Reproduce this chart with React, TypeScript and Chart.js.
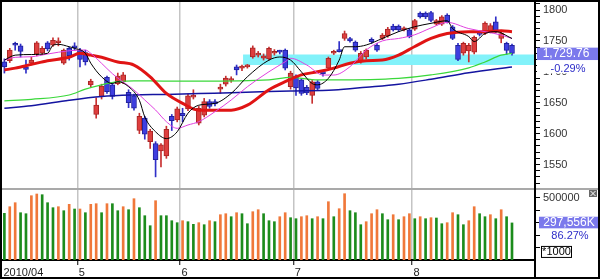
import React, { useEffect, useRef } from 'react';
import { Chart, registerables } from 'chart.js';

Chart.register(...registerables);

const FONT = '"Liberation Sans", Arial, sans-serif';

// x axis: month boundaries (bar index units), labels
const monthTickValues = [-0.44, 13.5, 32.5, 53.5, 75.5];
const monthTickLabels = ['2010/04', '5', '6', '7', '8'];

// daily candles (index 0..94)
const openPrices = [
  1716, 1718, 1746, 1742, 1708, 1714, 1729, 1730, 1747, 1743,
  1747, 1714, 1738, 1741, 1735, 1731, 1679, 1631, 1660, 1691,
  1679, 1681, 1684, 1667, 1661, 1605, 1625, 1587, 1584, 1572,
  1564, 1628, 1622, 1633, 1640, 1659, 1617, 1630, 1652, 1652,
  1672, 1680, 1686, 1708, 1706, 1708, 1724, 1727, 1722, 1721,
  1730, 1733.5, 1735, 1676, 1693, 1687, 1675, 1662, 1684, 1700,
  1706, 1730, 1736, 1754, 1754, 1748, 1716, 1724, 1752.5, 1743,
  1754, 1758, 1774, 1774, 1768, 1768, 1769, 1795, 1795, 1796,
  1777, 1777, 1792, 1773, 1743, 1730, 1734, 1732, 1764, 1762,
  1765, 1781, 1754, 1746, 1743,
];
const highPrices = [
  1721, 1738, 1748, 1745, 1719, 1724, 1749, 1741, 1749, 1755,
  1755, 1737, 1740, 1747, 1738, 1735, 1688, 1658, 1680, 1693,
  1681, 1698, 1699, 1671, 1664, 1633, 1628, 1607, 1587, 1584,
  1612, 1631, 1643, 1641, 1664, 1671, 1644, 1657, 1655, 1655,
  1680, 1693, 1692, 1711, 1711, 1712, 1742, 1733, 1729, 1740,
  1736, 1735, 1737, 1701, 1695, 1689, 1678, 1686, 1686, 1702,
  1724, 1735, 1749, 1766, 1756, 1750, 1733, 1737, 1755, 1746,
  1762, 1772, 1777, 1776, 1773, 1770, 1785, 1797, 1797, 1798,
  1785, 1791, 1794, 1775, 1746, 1748, 1746, 1758, 1766, 1781,
  1778, 1789, 1764, 1748, 1745,
];
const lowPrices = [
  1698, 1715, 1735, 1724, 1698, 1711, 1726, 1728, 1734, 1741,
  1742, 1712, 1719, 1735, 1708, 1711, 1675, 1625, 1656, 1665,
  1656, 1679, 1681, 1642, 1638, 1600, 1591, 1576, 1530, 1546,
  1560, 1605, 1619, 1619, 1637, 1656, 1614, 1627, 1641, 1645,
  1665, 1677, 1683, 1695, 1702, 1706, 1722, 1724, 1719, 1719,
  1727, 1729, 1703, 1672, 1662, 1662, 1663, 1649, 1670, 1693,
  1703, 1728, 1732, 1751, 1748, 1733, 1714, 1721, 1746, 1733,
  1752, 1756, 1766, 1765, 1766, 1755, 1767, 1787, 1786, 1781,
  1775, 1775, 1779, 1752, 1718, 1727, 1716, 1729, 1758, 1760,
  1763, 1763, 1747, 1728, 1727,
];
const closePrices = [
  1708, 1735, 1743, 1733, 1704, 1719, 1747, 1738, 1737, 1751,
  1748.5, 1735, 1726, 1739, 1720, 1716, 1685, 1646, 1677, 1668,
  1660, 1693, 1695, 1650, 1641, 1628, 1599, 1604, 1558, 1582,
  1607, 1621, 1640, 1629, 1661, 1662, 1641, 1652, 1644, 1648,
  1674, 1690, 1688.5, 1703, 1708, 1710.5, 1739, 1730, 1726, 1738,
  1732.5, 1732, 1706, 1698, 1674, 1665, 1666, 1684, 1673, 1697,
  1722, 1732.5, 1732.5, 1762, 1750, 1735, 1730, 1735, 1749, 1735,
  1759.5, 1769, 1768, 1768, 1771, 1757, 1783, 1789, 1789, 1783,
  1783, 1789, 1781, 1754, 1720, 1746, 1743, 1756, 1760.5, 1779,
  1775, 1765, 1762, 1734.8, 1729.76,
];

// volume (thousands) and colour flag (1 = orange, 0 = green)
const volumes = [
  374800, 427800, 459900, 379600, 371600, 516100, 529700, 524100, 459900, 419800,
  427800, 395700, 447000, 409300, 409300, 379600, 447000, 451900, 379600, 451900,
  451900, 395700, 427800, 403700, 492000, 419800, 355600, 275300, 475900, 355600,
  355600, 315400, 299400, 315400, 307400, 286500, 299400, 283300, 315400, 307400,
  363600, 371600, 347500, 379600, 371600, 291300, 387700, 403700, 371600, 315400,
  307400, 347500, 379600, 339500, 331500, 347500, 355600, 331500, 347500, 331500,
  467900, 347500, 411700, 532100, 395700, 379600, 283300, 307400, 371600, 403700,
  371600, 323400, 363600, 323400, 347500, 371600, 331500, 347500, 331500, 339500,
  337100, 291300, 299400, 379600, 363600, 283300, 315400, 427800, 371600, 347500,
  363600, 331500, 403700, 347500, 297556,
];
const volumeUp = [
  0, 1, 1, 0, 0, 1, 1, 0, 0, 0,
  1, 0, 1, 0, 1, 0, 1, 1, 0, 1,
  0, 0, 1, 0, 1, 0, 0, 0, 1, 0,
  0, 0, 0, 1, 0, 0, 1, 0, 1, 0,
  1, 1, 0, 1, 0, 0, 1, 1, 0, 0,
  0, 1, 1, 0, 0, 1, 1, 0, 1, 0,
  1, 0, 1, 1, 0, 0, 0, 1, 1, 1,
  0, 0, 1, 0, 1, 1, 0, 1, 0, 1,
  0, 0, 1, 1, 0, 0, 1, 1, 0, 0,
  1, 0, 1, 0, 0,
];

// moving average lines (bar index, value)
const ma5Idx = [0, 2, 5, 8, 9, 10, 12, 13, 15, 16, 18, 20, 21, 23, 25, 26, 28, 30, 32, 34, 36, 39, 42, 45, 49, 51, 53, 55, 57, 58, 60, 62, 63, 65, 67, 70, 73, 76, 79, 82, 83, 86, 87, 89, 91, 94];
const ma5Val = [1719, 1727, 1728, 1730, 1743, 1744.5, 1740.6, 1738, 1730, 1714, 1692, 1681, 1684, 1676, 1654, 1627, 1603, 1592, 1603, 1633, 1646, 1649, 1665, 1692, 1719, 1724, 1719, 1700, 1681, 1679, 1689.5, 1719, 1740.6, 1740.6, 1743.4, 1754, 1765, 1773, 1778.5, 1782.7, 1770, 1757, 1749, 1762, 1765, 1754];

const ma10Idx = [0, 2, 5, 8, 12, 15, 16, 18, 20, 21, 24, 26, 28, 30, 32, 34, 36, 39, 42, 45, 49, 52, 53, 56, 59, 61, 64, 67, 70, 73, 76, 79, 82, 86, 89, 92, 94];
const ma10Val = [1719, 1723.5, 1724.4, 1728.8, 1734.1, 1735.3, 1729.9, 1713.8, 1697, 1690, 1670.6, 1654.4, 1638.2, 1619.3, 1608.6, 1614, 1619.3, 1635.5, 1654.4, 1675.9, 1700.2, 1716.3, 1721.9, 1711, 1694.8, 1694.8, 1708.3, 1735.3, 1750, 1754, 1760, 1771, 1780, 1770, 1765, 1759.5, 1754];

const ma20Idx = [0, 2, 5, 8, 12, 14, 16, 18, 21, 24, 27, 30, 33, 36, 42, 45, 49, 52, 55, 58, 61, 64, 67, 70, 73, 76, 79, 82, 86, 89, 92, 94];
const ma20Val = [1703, 1706, 1712, 1718, 1723.5, 1730, 1727, 1723.5, 1716, 1711, 1692, 1665, 1649, 1638, 1638, 1646, 1671, 1684, 1695, 1700, 1706, 1714, 1718, 1719, 1727, 1741, 1754, 1762, 1765, 1765, 1766.5, 1765];

const ma60Idx = [0, 5, 12, 15, 18, 21, 24, 30, 36, 49, 53, 58, 61, 73, 79, 86, 89, 92, 94];
const ma60Val = [1653, 1655.5, 1662.5, 1672, 1679, 1684, 1685.5, 1685, 1685, 1687, 1691, 1687, 1687, 1689.5, 1695, 1706.5, 1716, 1727, 1730];

const ma120Idx = [0, 5, 12, 18, 24, 30, 36, 42, 49, 53, 61, 67, 73, 79, 86, 94];
const ma120Val = [1641, 1645, 1654, 1660, 1662.5, 1663.5, 1665, 1666, 1668, 1669, 1670.5, 1675, 1680, 1688, 1698.5, 1708];

// highlighted price band
const bandStartIdx = 44.2;
const bandEndIdx = 98.26;
const bandTop = 1728;
const bandBottom = 1711;

// right side readouts
const lastClose = 1729.76;
const lastCloseLabel = '1,729.76';
const changeLabel = '-0.29%';
const lastVolume = 297556;
const lastVolumeLabel = '297,556K';
const volumeRatioLabel = '86.27%';
const volumeUnitLabel = '*1000';

const X_MIN = -0.44;
const X_MAX = 98.26;
const PRICE_MIN = 1512;
const PRICE_MAX = 1813;
const VOL_MAX = 577900;

const zip = (idx: number[], val: number[]) => idx.map((x, k) => ({ x, y: val[k] }));

const overlayPlugin = {
  id: 'overlay',
  afterDraw(chart: any) {
    const ctx = chart.ctx as CanvasRenderingContext2D;
    const area = chart.chartArea;
    const ys = chart.scales.y;
    const vs = chart.scales.yv;
    const W = chart.width;
    const H = chart.height;
    ctx.save();
    // panel separator
    ctx.fillStyle = '#a9a9a9';
    ctx.fillRect(0, vs.top, W, 2);
    // vertical axis line to bottom
    ctx.fillStyle = '#000';
    ctx.fillRect(area.right - 1, 0, 2, H);

    const left = area.right + 2;
    ctx.textAlign = 'center';
    ctx.textBaseline = 'middle';

    // price readout
    const py = ys.getPixelForValue(lastClose);
    ctx.fillStyle = '#fff';
    ctx.fillRect(left, py + 6.5, W - left, 13.5);
    ctx.fillStyle = '#7b79ec';
    ctx.fillRect(left, py - 5.8, W - left, 12.4);
    ctx.fillStyle = '#fff';
    ctx.font = '12px ' + FONT;
    ctx.fillText(lastCloseLabel, left + 29, py + 0.6);
    ctx.fillStyle = '#2c2cc8';
    ctx.font = '11px ' + FONT;
    ctx.fillText(changeLabel, left + 31, py + 15.4);

    // volume readout
    const vy = vs.getPixelForValue(lastVolume);
    ctx.fillStyle = '#7b79ec';
    ctx.fillRect(left + 2, vy - 6.2, W - left - 2, 11.6);
    ctx.fillStyle = '#fff';
    ctx.font = '12px ' + FONT;
    ctx.fillText(lastVolumeLabel, left + 32, vy - 0.3);
    ctx.fillStyle = '#2c2cc8';
    ctx.font = '11px ' + FONT;
    ctx.fillText(volumeRatioLabel, left + 33, vy + 13.3);

    // unit box
    ctx.fillStyle = '#fff';
    ctx.fillRect(left + 4, vy + 23, 30, 11.3);
    ctx.strokeStyle = '#000';
    ctx.lineWidth = 1;
    ctx.strokeRect(left + 4.5, vy + 23.5, 30, 11);
    ctx.fillStyle = '#000';
    ctx.font = '11px ' + FONT;
    ctx.fillText(volumeUnitLabel, left + 19.5, vy + 29.5);

    // small close icon
    const ix = W - 9;
    const iy = vs.top + 2;
    ctx.fillStyle = '#6a6a6a';
    ctx.fillRect(ix, iy, 8, 7);
    ctx.strokeStyle = '#fff';
    ctx.lineWidth = 1;
    ctx.beginPath();
    ctx.moveTo(ix + 1.5, iy + 1);
    ctx.lineTo(ix + 6.5, iy + 6);
    ctx.moveTo(ix + 6.5, iy + 1);
    ctx.lineTo(ix + 1.5, iy + 6);
    ctx.stroke();
    ctx.restore();
  },
};

export default function App() {
  const ref = useRef<HTMLCanvasElement>(null);

  useEffect(() => {
    const canvas = ref.current;
    if (!canvas) return;

    const up = closePrices.map((c, i) => c >= openPrices[i]);
    const bodyFill = up.map((u) => (u ? '#de3e3e' : '#3e3ee0'));
    const bodyBorder = up.map((u) => (u ? '#a82626' : '#22229a'));
    const wickColor = up.map((u) => (u ? '#c83030' : '#3030c8'));
    const volColor = volumeUp.map((u) => (u ? '#f0783a' : '#1c8c1c'));

    const wickData = closePrices.map((_, i) => ({ x: i, y: [lowPrices[i], highPrices[i]] }));
    const bodyData = closePrices.map((_, i) => ({ x: i, y: [openPrices[i], closePrices[i]] }));
    const volData = volumes.map((v, i) => ({ x: i, y: v }));

    const lineBase = {
      type: 'line' as const,
      pointRadius: 0,
      fill: false,
      cubicInterpolationMode: 'monotone' as const,
      yAxisID: 'y',
    };

    const chart = new Chart(canvas, {
      type: 'bar',
      data: {
        datasets: [
          {
            type: 'line',
            data: [
              { x: bandStartIdx, y: bandTop },
              { x: bandEndIdx, y: bandTop },
            ],
            fill: { value: bandBottom },
            backgroundColor: '#82f2fa',
            borderWidth: 0,
            pointRadius: 0,
            yAxisID: 'y',
            order: 20,
          } as any,
          {
            type: 'bar',
            data: volData as any,
            backgroundColor: volColor,
            barThickness: 2,
            grouped: false,
            yAxisID: 'yv',
            order: 19,
          },
          {
            type: 'bar',
            data: wickData as any,
            backgroundColor: wickColor,
            barThickness: 1,
            grouped: false,
            yAxisID: 'y',
            order: 18,
          },
          {
            type: 'bar',
            data: bodyData as any,
            backgroundColor: bodyFill,
            borderColor: bodyBorder,
            borderWidth: 1,
            borderSkipped: false,
            minBarLength: 2,
            barThickness: 5,
            grouped: false,
            yAxisID: 'y',
            order: 17,
          },
          { ...lineBase, data: zip(ma120Idx, ma120Val), borderColor: '#1414a0', borderWidth: 1.5, order: 6 } as any,
          { ...lineBase, data: zip(ma60Idx, ma60Val), borderColor: '#3ad83a', borderWidth: 1.2, order: 5 } as any,
          { ...lineBase, data: zip(ma20Idx, ma20Val), borderColor: '#e01414', borderWidth: 3, order: 4 } as any,
          { ...lineBase, data: zip(ma10Idx, ma10Val), borderColor: '#e040e0', borderWidth: 1, order: 3 } as any,
          { ...lineBase, data: zip(ma5Idx, ma5Val), borderColor: '#000000', borderWidth: 1, order: 2 } as any,
        ],
      },
      options: {
        responsive: false,
        animation: false,
        events: [],
        layout: { padding: 0 },
        plugins: {
          legend: { display: false },
          tooltip: { enabled: false },
        },
        scales: {
          x: {
            type: 'linear',
            min: X_MIN,
            max: X_MAX,
            offset: false,
            position: 'bottom',
            afterBuildTicks: (s: any) => {
              s.ticks = monthTickValues.map((v) => ({ value: v }));
            },
            afterFit: (s: any) => {
              s.height = 17;
              s.paddingLeft = 0;
              s.paddingRight = 0;
            },
            ticks: {
              autoSkip: false,
              maxRotation: 0,
              minRotation: 0,
              align: 'start',
              labelOffset: 1.5,
              padding: 1,
              color: '#222',
              font: { family: FONT, size: 11 },
              callback: (v: any) => {
                const k = monthTickValues.indexOf(Number(v));
                return k >= 0 ? monthTickLabels[k] : '';
              },
            },
            grid: {
              offset: false,
              color: (c: any) => (c.tick && c.tick.value < 0 ? 'rgba(0,0,0,0)' : '#c4c4c4'),
              lineWidth: 1.5,
              drawTicks: true,
              tickLength: 5,
              tickWidth: 1,
              tickColor: (c: any) => (c.tick && c.tick.value < 0 ? 'rgba(0,0,0,0)' : '#000'),
            },
            border: { display: true, color: '#000', width: 2 },
          } as any,
          y: {
            type: 'linear',
            position: 'right',
            stack: 'panels',
            stackWeight: 186,
            min: PRICE_MIN,
            max: PRICE_MAX,
            afterBuildTicks: (s: any) => {
              const t = [];
              for (let v = 1520; v <= 1810; v += 10) t.push({ value: v });
              s.ticks = t;
            },
            afterFit: (s: any) => {
              s.width = 63;
              s.paddingTop = 0;
              s.paddingBottom = 0;
            },
            ticks: {
              autoSkip: false,
              padding: 3,
              color: '#333',
              font: { family: FONT, size: 11 },
              callback: (v: any) => (Number(v) % 50 === 0 ? String(v) : ''),
            },
            grid: {
              drawOnChartArea: false,
              drawTicks: true,
              tickLength: 5,
              tickWidth: 1,
              tickColor: '#000',
            },
            border: { display: true, color: '#000', width: 2 },
          } as any,
          yv: {
            type: 'linear',
            position: 'right',
            stack: 'panels',
            stackWeight: 72,
            min: 0,
            max: VOL_MAX,
            afterBuildTicks: (s: any) => {
              const t = [];
              for (let v = 100000; v <= 500000; v += 100000) t.push({ value: v });
              s.ticks = t;
            },
            afterFit: (s: any) => {
              s.width = 63;
              s.paddingTop = 0;
              s.paddingBottom = 0;
            },
            ticks: {
              autoSkip: false,
              padding: 3,
              color: '#333',
              font: { family: FONT, size: 11 },
              callback: (v: any) => (Number(v) === 500000 ? '500000' : ''),
            },
            grid: {
              drawOnChartArea: false,
              drawTicks: true,
              tickLength: 5,
              tickWidth: 1,
              tickColor: '#000',
            },
            border: { display: true, color: '#000', width: 2 },
          } as any,
        },
      },
      plugins: [overlayPlugin],
    } as any);

    return () => chart.destroy();
  }, []);

  return (
    <div
      style={{
        position: 'absolute',
        left: 0,
        top: 0,
        width: 600,
        height: 279,
        boxSizing: 'border-box',
        border: '2px solid #000',
        background: '#fff',
      }}
    >
      <canvas ref={ref} width={596} height={275} style={{ display: 'block', width: 596, height: 275 }} />
    </div>
  );
}
